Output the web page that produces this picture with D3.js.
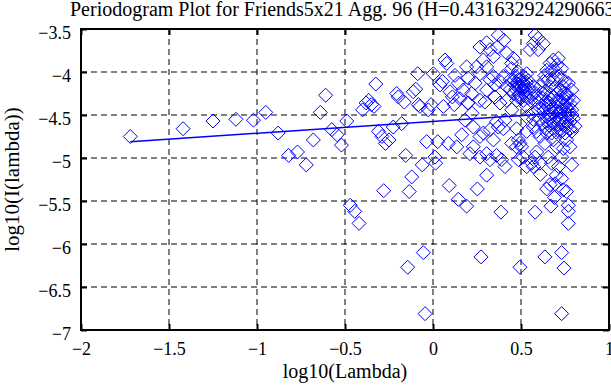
<!DOCTYPE html>
<html>
<head>
<meta charset="utf-8">
<script src="https://cdn.jsdelivr.net/npm/d3@7"></script>
<style>
  body { margin: 0; background: #fff; }
  svg { display: block; }
  text { font-family: "Liberation Serif", "Times New Roman", serif; fill: #000; }
</style>
</head>
<body>
<div id="chart"></div>
<script>
// periodogram points (log10 lambda, log10 I(lambda))
const lowFreqPoints = [
  [-1.72,-4.75],[-1.42,-4.66],[-1.25,-4.57],[-1.12,-4.55],[-1.02,-4.56],[-0.95,-4.47],
  [-0.88,-4.71],[-0.82,-4.97],[-0.77,-4.93],[-0.72,-5.08],[-0.68,-4.79],[-0.64,-4.47],
  [-0.61,-4.27],[-0.575,-4.67],[-0.545,-4.73],[-0.52,-4.85],[-0.49,-4.57],[-0.47,-5.55],
  [-0.445,-5.62],[-0.42,-5.76]
];
const midFreqPoints = [
  [-0.40,-4.44],[-0.38,-4.36],[-0.365,-4.33],[-0.35,-4.38],[-0.335,-4.40],[-0.325,-4.14],
  [-0.31,-4.69],[-0.29,-4.75],[-0.28,-5.38],[-0.27,-4.83],[-0.25,-4.79],[-0.226,-4.64],
  [-0.206,-4.25],[-0.197,-4.29],[-0.178,-4.60],[-0.163,-4.35],[-0.155,-4.97],[-0.144,-6.27],
  [-0.135,-5.39],[-0.121,-5.22],[-0.112,-4.23],[-0.098,-4.20],[-0.087,-4.02],[-0.083,-4.38],
  [-0.074,-4.40],[-0.061,-5.08],[-0.055,-6.10],[-0.045,-6.81],[-0.036,-4.81],[-0.027,-4.44],
  [-0.011,-4.38],[0.002,-4.02],[0.011,-4.99],[0.015,-5.06],[0.027,-4.81],[0.04,-4.15],
  [0.053,-4.11],[0.059,-4.40],[0.068,-3.86],[0.078,-3.90],[0.087,-4.83],[0.092,-5.32],
  [0.097,-4.23],[0.11,-4.29],[0.121,-4.38],[0.125,-4.04],[0.135,-4.87],[0.144,-4.13],
  [0.144,-5.48],[0.153,-4.31],[0.163,-4.73],[0.172,-4.21],[0.182,-4.56],[0.191,-3.94],
  [0.191,-5.56],[0.197,-4.36],[0.2,-4.07]
];
const highFreqPoints = [
  [0.267,-3.71],[0.305,-3.66],[0.371,-3.57],[0.403,-3.63],[0.366,-3.71],[0.419,-3.78],
  [0.447,-3.90],[0.456,-3.84],[0.58,-3.57],[0.598,-3.61],[0.627,-3.67],[0.57,-3.67],
  [0.551,-3.74],[0.598,-3.74],[0.684,-3.86],[0.703,-3.92],[0.693,-3.98],[0.646,-3.98],
  [0.636,-4.04],[0.75,-4.11],[0.769,-4.13],[0.722,-4.21],[0.788,-4.21],[0.797,-4.33],
  [0.759,-4.35],[0.788,-4.44],[0.797,-4.54],[0.807,-4.63],[0.788,-4.69],[0.759,-4.79],
  [0.778,-4.87],[0.74,-4.89],[0.731,-4.99],[0.788,-5.08],[0.713,-5.10],[0.674,-5.06],
  [0.655,-4.99],[0.608,-5.06],[0.58,-4.99],[0.589,-4.93],[0.561,-5.06],[0.57,-5.10],
  [0.494,-4.83],[0.485,-4.79],[0.503,-4.87],[0.485,-5.02],[0.475,-4.66],[0.532,-4.69],
  [0.57,-4.64],[0.589,-4.69],[0.608,-4.75],[0.646,-4.71],[0.636,-4.83],[0.684,-4.79],
  [0.703,-4.87],[0.222,-4.48],[0.229,-4.64],[0.267,-4.75],[0.286,-4.71],[0.324,-4.67],
  [0.343,-4.79],[0.371,-4.64],[0.40,-4.66],[0.409,-4.56],[0.361,-4.58],[0.447,-4.44],
  [0.475,-4.33],[0.532,-4.40],[0.561,-4.48],[0.532,-4.52],[0.267,-4.33],[0.295,-4.35],
  [0.305,-4.21],[0.324,-4.09],[0.343,-4.05],[0.352,-4.15],[0.381,-4.11],[0.40,-4.05],
  [0.419,-4.17],[0.438,-4.09],[0.466,-4.15],[0.485,-4.09],[0.494,-4.19],[0.513,-4.13],
  [0.456,-4.25],[0.485,-4.29],[0.513,-4.33],[0.419,-4.33],[0.381,-4.36],[0.352,-4.29],
  [0.447,-3.96],[0.485,-4.00],[0.532,-4.02],[0.532,-4.21],[0.551,-4.25],[0.57,-4.17],
  [0.589,-4.29],[0.608,-4.17],[0.627,-4.25],[0.646,-4.33],[0.665,-4.17],[0.684,-4.29],
  [0.703,-4.40],[0.722,-4.33],[0.74,-4.44],[0.759,-4.52],[0.731,-4.56],[0.703,-4.52],
  [0.665,-4.44],[0.646,-4.52],[0.627,-4.40],[0.598,-4.44],[0.608,-4.54],[0.684,-4.60],
  [0.722,-4.67],[0.75,-4.71],[0.674,-4.71],[0.759,-4.64],[0.778,-4.58],[0.769,-4.44],
  [0.75,-4.25],[0.731,-4.09],[0.713,-4.05],[0.684,-4.09],[0.655,-4.09],[0.627,-4.11],
  [0.674,-3.98],[0.731,-3.96],[0.713,-3.84],[0.665,-3.90],
  [0.229,-4.87],[0.267,-4.99],[0.305,-4.95],[0.324,-5.02],[0.361,-4.97],[0.21,-4.95],
  [0.305,-5.20],[0.39,-5.02],[0.409,-5.10],[0.447,-4.83],[0.475,-4.87],[0.513,-4.99],
  [0.532,-5.10],[0.20,-4.36],[0.22,-4.25],[0.239,-4.13],[0.267,-4.02],[0.248,-3.94],
  [0.286,-3.86],[0.305,-3.94],[0.343,-3.82],[0.324,-3.74],
  [0.62,-4.30],[0.64,-4.22],[0.66,-4.36],[0.67,-4.26],[0.69,-4.19],[0.70,-4.34],
  [0.71,-4.24],[0.72,-4.47],[0.73,-4.38],[0.74,-4.31],[0.75,-4.50],[0.76,-4.42],
  [0.77,-4.30],[0.78,-4.37],[0.79,-4.50],[0.68,-4.48],[0.69,-4.55],[0.71,-4.61],
  [0.73,-4.69],[0.76,-4.58],[0.66,-4.62],[0.62,-4.60],[0.64,-4.66],[0.60,-4.36],
  [0.58,-4.24],[0.57,-4.55],[0.555,-4.33],[0.54,-4.10],[0.52,-4.23],[0.50,-4.08],
  [0.51,-4.20],[0.50,-4.30],[0.515,-4.05],
  [0.46,-4.10],[0.47,-4.20],[0.48,-4.14],[0.49,-4.26],[0.50,-4.16],[0.505,-4.11],
  [0.52,-4.17],[0.525,-4.28],[0.53,-4.12],[0.54,-4.30],[0.545,-4.19],[0.47,-4.05],
  [0.44,-4.20],[0.63,-4.45],[0.65,-4.57],[0.67,-4.40],[0.70,-4.45],[0.72,-4.55],
  [0.74,-4.60],[0.75,-4.38],[0.77,-4.50],[0.78,-4.66],[0.70,-4.70],[0.68,-4.66],
  [0.66,-4.50],[0.64,-4.38],[0.76,-4.26],[0.74,-4.17]
];
const highFreqLowPoints = [
  [0.252,-5.36],[0.386,-5.63],[0.58,-5.63],[0.646,-5.36],[0.67,-5.56],[0.69,-5.46],
  [0.693,-5.30],[0.731,-5.24],[0.74,-5.37],[0.759,-5.39],[0.769,-5.55],[0.769,-5.62],
  [0.769,-5.76],[0.273,-6.15],[0.494,-6.27],[0.636,-6.15],[0.731,-6.10],[0.744,-6.28],
  [0.731,-6.81],[0.665,-5.31],[0.61,-5.19],[0.70,-5.20]
];
// least squares fit line end points
const fitLine = [[-1.72,-4.81],[0.80,-4.465]];
const xTicks = [-2,-1.5,-1,-0.5,0,0.5,1];
const yTicks = [-7,-6.5,-6,-5.5,-5,-4.5,-4,-3.5];
const titleText = 'Periodogram Plot for Friends5x21 Agg. 96 (H=0.43163292429066327)';

const width = 611, height = 385;
const margin = { top: 29, right: 2, bottom: 55, left: 81 };
const blue = '#0000ff';

const svg = d3.select('#chart').append('svg')
  .attr('width', width)
  .attr('height', height);

const x = d3.scaleLinear().domain([-2, 1]).range([margin.left, width - margin.right]);
const y = d3.scaleLinear().domain([-7, -3.5]).range([height - margin.bottom, margin.top]);
const fmt = d3.format('~g');

// grid lines
svg.append('g').selectAll('line')
  .data(xTicks.slice(1, -1))
  .enter().append('line')
  .attr('x1', d => x(d)).attr('x2', d => x(d))
  .attr('y1', y(-3.5)).attr('y2', y(-7))
  .attr('stroke', '#000').attr('stroke-dasharray', '6,4');
svg.append('g').selectAll('line')
  .data(yTicks.slice(1, -1))
  .enter().append('line')
  .attr('y1', d => y(d)).attr('y2', d => y(d))
  .attr('x1', x(-2)).attr('x2', x(1))
  .attr('stroke', '#000').attr('stroke-dasharray', '6,4');

// axes, ticks pointing inward
const xAxis = svg.append('g')
  .attr('transform', `translate(0,${y(-7)})`)
  .call(d3.axisBottom(x).tickValues(xTicks).tickFormat(fmt).tickSizeInner(-6).tickSizeOuter(0).tickPadding(12));
const yAxis = svg.append('g')
  .attr('transform', `translate(${x(-2)},0)`)
  .call(d3.axisLeft(y).tickValues(yTicks).tickFormat(fmt).tickSizeInner(-6).tickSizeOuter(0).tickPadding(10));
svg.append('g')
  .attr('transform', `translate(0,${y(-3.5)})`)
  .call(d3.axisTop(x).tickValues(xTicks).tickFormat('').tickSizeInner(-6).tickSizeOuter(0));
svg.append('g')
  .attr('transform', `translate(${x(1)},0)`)
  .call(d3.axisRight(y).tickValues(yTicks).tickFormat('').tickSizeInner(-6).tickSizeOuter(0));
svg.selectAll('.domain').remove();
svg.selectAll('.tick line').attr('stroke', '#000').attr('stroke-width', 2);
xAxis.selectAll('text').style('font-size', '18px').attr('dy', '0.71em');
yAxis.selectAll('text').style('font-size', '18px').attr('dy', '0.55em');

// frame
svg.append('rect')
  .attr('x', x(-2)).attr('y', y(-3.5))
  .attr('width', x(1) - x(-2)).attr('height', y(-7) - y(-3.5))
  .attr('fill', 'none').attr('stroke', '#000').attr('stroke-width', 2);

// diamonds
const r = 7;
const diamond = `M0,${-r}L${r},0L0,${r}L${-r},0Z`;
const allPoints = lowFreqPoints.concat(midFreqPoints, highFreqPoints, highFreqLowPoints);
svg.append('g').selectAll('path')
  .data(allPoints)
  .enter().append('path')
  .attr('d', diamond)
  .attr('transform', d => `translate(${x(d[0])},${y(d[1])})`)
  .attr('fill', 'none')
  .attr('stroke', blue)
  .attr('stroke-width', 1);

// fit line
svg.append('path')
  .datum(fitLine)
  .attr('d', d3.line().x(d => x(d[0])).y(d => y(d[1])))
  .attr('stroke', blue).attr('stroke-width', 1.5).attr('fill', 'none');

// labels
svg.append('text')
  .attr('x', 70).attr('y', 16)
  .style('font-size', '20px')
  .text(titleText);
svg.append('text')
  .attr('x', (x(-2) + x(1)) / 2).attr('y', 378)
  .attr('text-anchor', 'middle')
  .style('font-size', '20px')
  .text('log10(Lambda)');
svg.append('text')
  .attr('transform', `translate(19,${(y(-7) + y(-3.5)) / 2}) rotate(-90)`)
  .attr('text-anchor', 'middle')
  .style('font-size', '21px')
  .text('log10(I(lambda))');
</script>
</body>
</html>
